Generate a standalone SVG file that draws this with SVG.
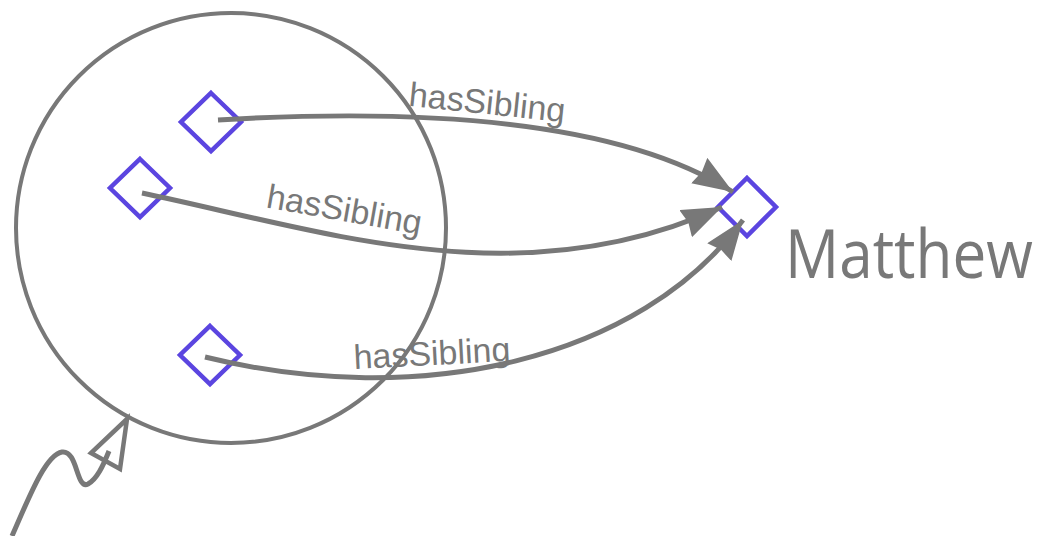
<svg xmlns="http://www.w3.org/2000/svg" width="1044" height="536" viewBox="0 0 1044 536">
<defs>
<style>
.ring{fill:none;stroke:#787878;stroke-width:4}
.node{fill:none;stroke:#5b45e0;stroke-width:4.5}
.edge{fill:none;stroke:#787878;stroke-width:5}
.lbl{font-family:"Liberation Sans",Arial,sans-serif;font-size:34px;fill:#787878;text-anchor:middle}
.big{font-family:"Open Sans","Noto Sans",sans-serif;font-size:68px;fill:#787878}
</style>
<marker id="ah" markerUnits="userSpaceOnUse" markerWidth="44" markerHeight="34" refX="40" refY="15" orient="auto" viewBox="0 0 44 34">
<path d="M0,0 L40,15 L0,30 L3,15 z" fill="#787878"/>
</marker>
</defs>
<rect width="1044" height="536" fill="#ffffff"/>
<g id="group-circle"><circle class="ring" cx="231" cy="228" r="215"/></g>
<g id="node-a"><path class="node" d="M211,93 L241,122 L211,151 L181,122 z"/></g>
<g id="node-b"><path class="node" d="M140,159 L170,188 L140,217 L110,188 z"/></g>
<g id="node-c"><path class="node" d="M210,326 L240,355 L210,384 L180,355 z"/></g>
<g id="node-matthew"><path class="node" d="M747,178 L776,207 L747,236 L718,207 z"/>
<text class="big" x="785" y="278" textLength="248" lengthAdjust="spacingAndGlyphs">Matthew</text></g>
<g id="connectors">
<path class="edge" d="M218,120 C420,108 620,120 733,192" marker-end="url(#ah)"/>
<path class="edge" d="M142,193 C320,230 520,300 722,207" marker-end="url(#ah)"/>
<path class="edge" d="M205,357 C420,410 640,360 743,220" marker-end="url(#ah)"/>
<polygon points="127,419 91,453 120,469" fill="#ffffff" stroke="#787878" stroke-width="4.5" stroke-linejoin="miter"/>
<path class="edge" d="M12,536 C28,500 45,455 62,452 C78,450 76,490 88,484 C97,479 103,466 109,451"/>
<text class="lbl" transform="translate(487,105) rotate(6)" x="0" y="9">hasSibling</text>
<text class="lbl" transform="translate(344,212) rotate(10)" x="0" y="9">hasSibling</text>
<text class="lbl" transform="translate(432,356) rotate(-3)" x="0" y="9">hasSibling</text>
</g>
</svg>
